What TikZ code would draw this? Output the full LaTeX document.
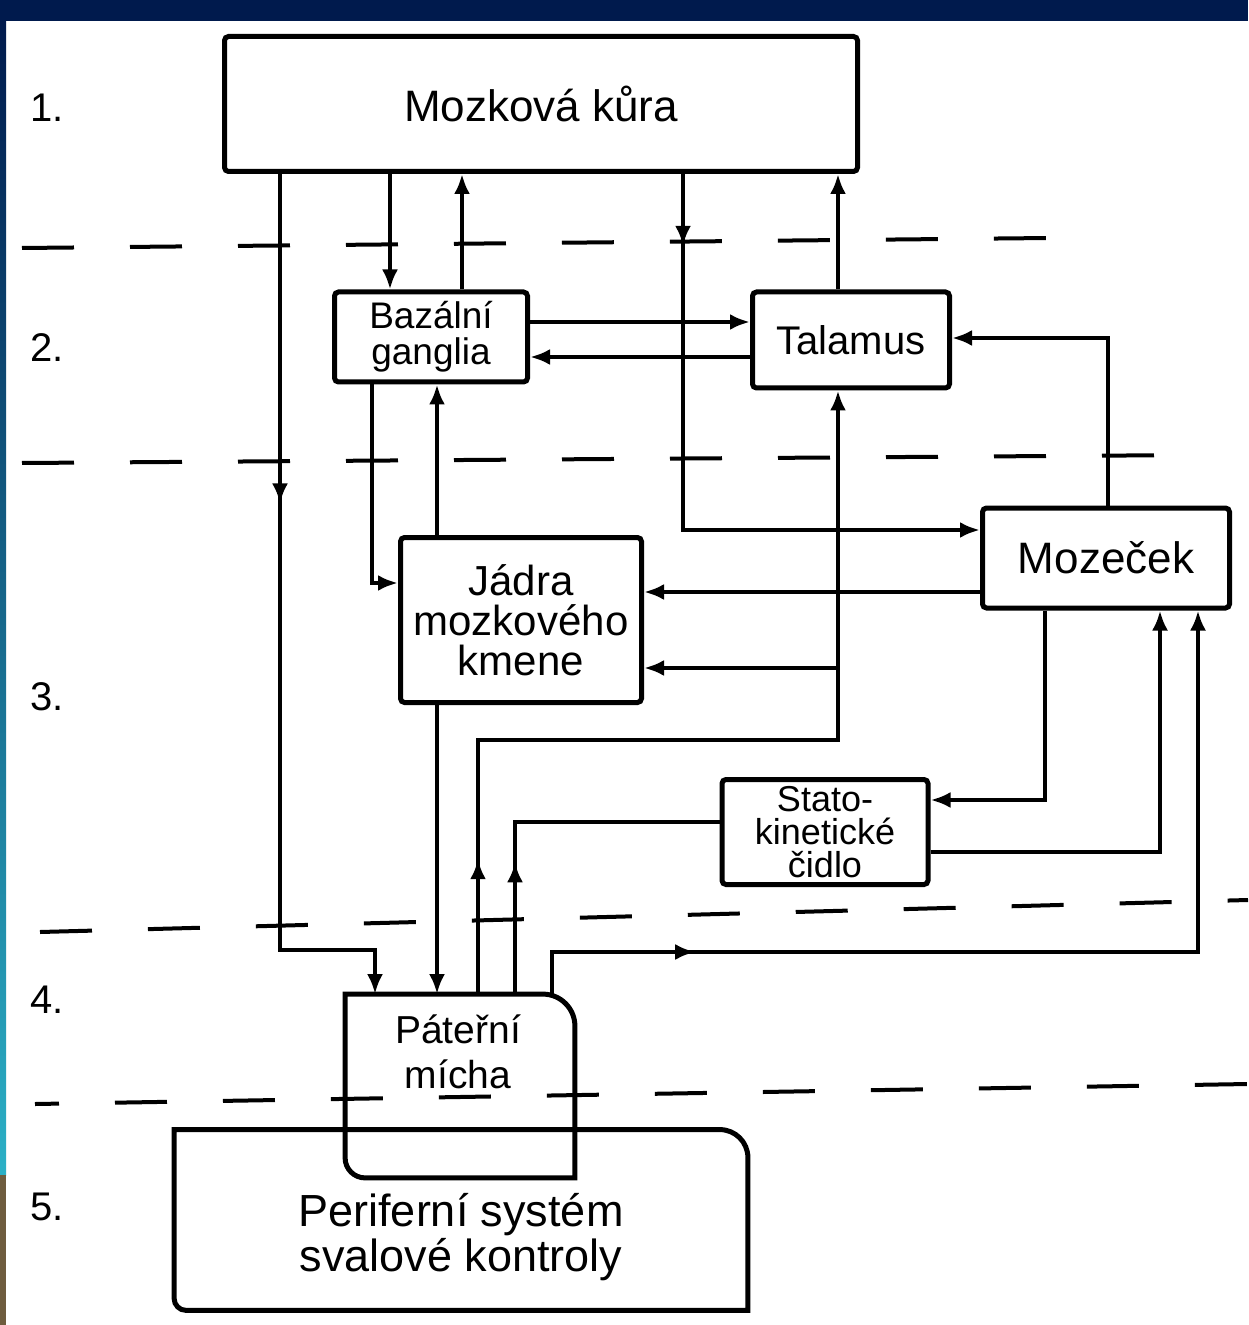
\documentclass[tikz,border=0pt]{standalone}
\usepackage{fontspec}
\setmainfont{Liberation Sans}
\usetikzlibrary{arrows.meta,decorations.markings}
\definecolor{navyband}{HTML}{001A4D}
\definecolor{stripblue}{HTML}{1A4AA5}
\definecolor{stripteal}{HTML}{2BB0C6}
\definecolor{stripbrown}{HTML}{6E5C3E}

\begin{document}
\begin{tikzpicture}[x=0.5pt, y=-0.5pt,
    frame/.style={line width=2.5pt},
    box/.style={draw, frame, rounded corners=2pt, inner sep=0pt, align=center},
    wire/.style={line width=2.2pt},
    conn/.style={wire, -{Latex[length=10pt,width=8pt]}},
    midarrow/.style={postaction=decorate, decoration={markings,
        mark=at position #1 with {\arrow{Latex[length=10pt,width=8pt]}}}},
    sep/.style={line width=2pt, dash pattern=on 26pt off 28pt},
    lvl/.style={font=\fontsize{20}{24}\selectfont}]

  % page with the frame strips
  \fill[white] (0,0) rectangle (1248,1325);
  \fill[navyband] (0,0) rectangle (1248,21);
  \shade[top color=navyband, middle color=stripblue, bottom color=stripteal] (0,21) rectangle (6,1175);
  \fill[stripbrown] (0,1175) rectangle (6,1325);
  \useasboundingbox (0,0) rectangle (1248,1325);

  % level separators
  \draw[sep] (22,248) -- (1050,238);
  \draw[sep] (22,463) -- (1200,455);
  \draw[sep] (40,932) -- (1248,900);
  \draw[sep, dash phase=14pt] (35,1104) -- (1248,1084);

  % level numbers
  \node[lvl] at (47,108) (l1) {1.};
  \node[lvl] at (47,348) (l2) {2.};
  \node[lvl] at (47,697) (l3) {3.};
  \node[lvl] at (47,1000) (l4) {4.};
  \node[lvl] at (47,1207) (l5) {5.};

  \node[box, minimum width=316.5pt, minimum height=67.5pt, font=\fontsize{22}{26}\selectfont] at (541,104) (kura) {Mozková kůra};
  \node[box, minimum width=96.5pt, minimum height=45pt, font=\fontsize{18.5}{18}\selectfont] at (431,337) (baz) {Bazální\\ganglia};
  \node[box, minimum width=98.5pt, minimum height=48pt, font=\fontsize{20}{24}\selectfont] at (851,340) (tal) {Talamus};
  \node[box, minimum width=123.5pt, minimum height=50pt, font=\fontsize{22}{26}\selectfont] at (1106,558) (moz) {Mozeček};
  \node[box, minimum width=120.5pt, minimum height=82.5pt, font=\fontsize{21}{20}\selectfont] at (521,620) (jad) {Jádra\\mozkového\\kmene};
  \node[box, minimum width=103pt, minimum height=52.5pt, font=\fontsize{18}{16.5}\selectfont] at (825,832) (stat) {Stato-\\kinetické\\čidlo};

  % spinal cord and periphery, outlines drawn by hand
  \node[inner sep=0pt, minimum width=114.5pt, minimum height=91.5pt] at (460,1086) (mich) {};
  \node[inner sep=0pt, minimum width=286.5pt, minimum height=90pt] at (461,1220) (peri) {};
  \draw[frame] (mich.south east) -- ([yshift=-16pt]mich.north east) arc[start angle=0, end angle=90, radius=16pt]
    -- (mich.north west) -- ([yshift=10pt]mich.south west) arc[start angle=180, end angle=270, radius=10pt] -- cycle;
  \draw[frame] (peri.north west) -- ([xshift=-14pt]peri.north east) arc[start angle=90, end angle=0, radius=14pt]
    -- (peri.south east) -- ([xshift=6pt]peri.south west) arc[start angle=270, end angle=180, radius=6pt] -- cycle;
  \node[font=\fontsize{19.5}{22.5}\selectfont, align=center] at (458,1052) (michtxt) {Páteřní\\mícha};
  \node[font=\fontsize{22.5}{21}\selectfont, align=center] at (461,1237) (peritxt) {Periferní systém\\svalové kontroly};

  % from and to the cortex
  \draw[conn, midarrow=0.36] (kura.south -| 280,0) -- (280,950) -| (mich.north -| 375,0);
  \draw[conn] (kura.south -| 390,0) -- (baz.north -| 390,0);
  \draw[conn] (baz.north -| 462,0) -- (kura.south -| 462,0);
  \draw[conn, midarrow=0.11] (kura.south -| 683,0) |- (moz.west |- 0,530);
  \draw[conn] (tal.north -| 838,0) -- (kura.south -| 838,0);

  % basal ganglia, thalamus, brain stem
  \draw[conn] (baz.east |- 0,322) -- (tal.west |- 0,322);
  \draw[conn] (tal.west |- 0,357) -- (baz.east |- 0,357);
  \draw[conn] (moz.north -| 1108,0) |- (tal.east |- 0,338);
  \draw[conn] (baz.south -| 372,0) |- (jad.west |- 0,583);
  \draw[conn] (jad.north -| 437,0) -- (baz.south -| 437,0);
  \draw[conn] (moz.west |- 0,592) -- (jad.east |- 0,592);

  % ascending from the spinal cord
  \coordinate (split) at (838,668);
  \draw[conn, midarrow=0.14] (mich.north -| 478,0) |- (838,740) -- (tal.south -| 838,0);
  \draw[conn] (split) -- (jad.east |- split);
  \draw[conn] (jad.south -| 437,0) -- (mich.north -| 437,0);
  \draw[wire, midarrow=0.35] (mich.north -| 515,0) |- (stat.west |- 0,822);

  % cerebellum loops
  \draw[conn] (moz.south -| 1045,0) |- (stat.east |- 0,800);
  \draw[conn] (stat.east |- 0,852) -| (moz.south -| 1160,0);
  \draw[conn, midarrow=0.18] (mich.north -| 552,0) |- (1198,952) -- (moz.south -| 1198,0);
\end{tikzpicture}
\end{document}
